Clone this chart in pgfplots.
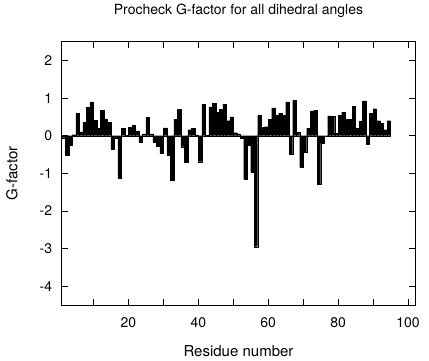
\documentclass[border=0pt]{standalone}
\usepackage{pgfplots}
\pgfplotsset{compat=1.18}
\usepackage{pgfplotstable}
\usepackage{fontspec}
\setmainfont{TeX Gyre Heros}
\pgfplotstableread{
r g
1 -0.05
2 -0.51
3 -0.24
4 0.03
5 0.60
6 0.10
7 0.36
8 0.76
9 0.90
10 0.41
11 0.19
12 0.68
13 0.45
14 0.36
15 -0.35
16 -0.06
17 -1.13
18 0.20
19 0.01
20 0.22
21 0.27
22 0.13
23 -0.16
24 0.05
25 0.49
26 0.05
27 -0.18
28 -0.28
29 -0.47
30 0.21
31 -0.52
32 -1.19
33 0.44
34 0.71
35 -0.29
36 -0.70
37 0.16
38 0.19
39 0.02
40 -0.69
41 0.84
42 0.01
43 0.77
44 0.87
45 0.62
46 0.70
47 0.84
48 0.40
49 0.50
50 0.08
51 0.05
52 -0.06
53 -1.16
54 -0.26
55 -0.97
56 -2.95
57 0.54
58 0.22
59 0.24
60 0.43
61 0.74
62 0.55
63 0.60
64 0.55
65 0.90
66 -0.50
67 0.94
68 0.09
69 -0.84
70 -0.44
71 0.20
72 0.66
73 0.68
74 -1.28
75 -0.20
76 -0.01
77 0.53
78 0.52
79 0.07
80 0.54
81 0.63
82 0.44
83 0.44
84 0.78
85 0.20
86 0.39
87 0.93
88 -0.22
89 0.59
90 0.72
91 0.40
92 0.33
93 0.16
94 0.40
95 0
}\gdata
\begin{document}
\fontsize{14}{16}\selectfont
\begin{tikzpicture}
\useasboundingbox (-62pt,-55pt) rectangle (367pt,305pt);
\begin{axis}[
  at={(0pt,0pt)}, anchor=south west,
  scale only axis,
  width=353pt, height=263.3pt,
  xmin=1, xmax=102,
  ymin=-4.5, ymax=2.5,
  xtick={10,20,...,100},
  xticklabels={,20,,40,,60,,80,,100},
  ytick={-4,-3,-2,-1,0,1,2},
  tick align=inside,
  major tick length=6pt,
  axis line style={line width=1pt},
  every tick/.style={line width=0.8pt, black},
  /pgf/number format/assume math mode=true,
  tick label style={font=\fontsize{14}{16}\selectfont},
  x tick label style={yshift=-8pt},
  y tick label style={xshift=-5pt},
  title={Procheck G-factor for all dihedral angles},
  title style={at={(axis description cs:0.5,1.094)}, anchor=center, font=\fontsize{14}{16}\selectfont},
  xlabel={Residue number},
  xlabel style={at={(axis description cs:0.5,-0.1747)}, anchor=center, font=\fontsize{15}{17}\selectfont},
  ylabel={G-factor},
  ylabel style={at={(axis description cs:-0.1416,0.5)}, anchor=center, font=\fontsize{15}{17}\selectfont},
]
\addplot[ybar interval, fill=black, draw=black, line width=0.2pt] table[x=r, y=g] {\gdata};
\end{axis}
\end{tikzpicture}
\end{document}
